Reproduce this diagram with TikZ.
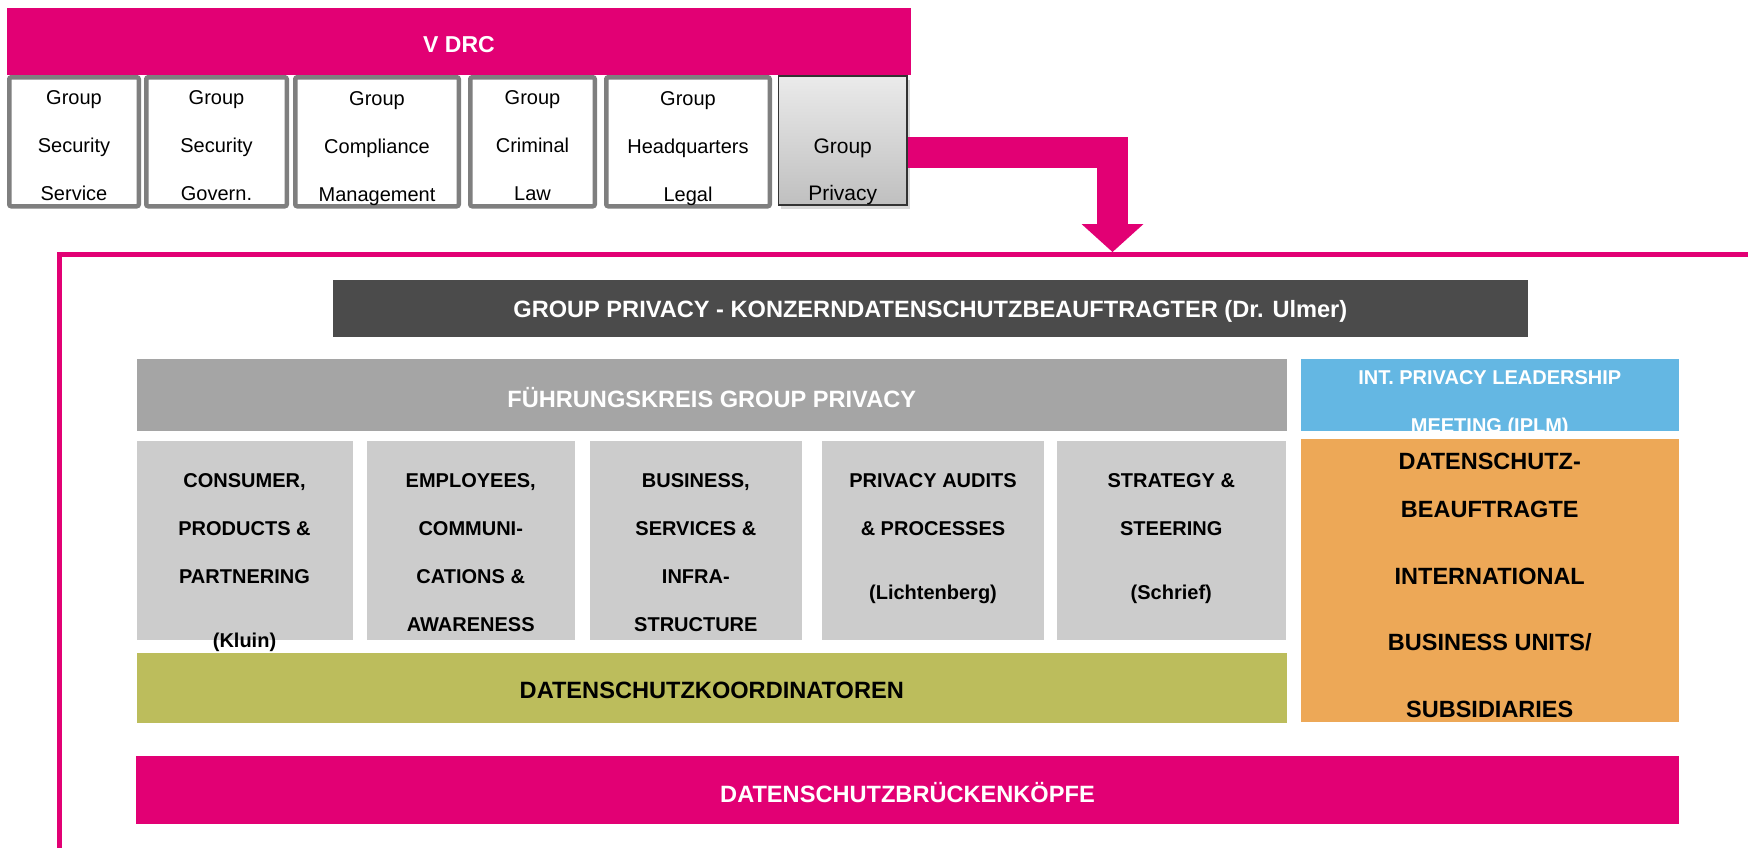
\documentclass[tikz,border=0pt]{standalone}
\usepackage{fontspec}
\setmainfont{Liberation Sans}
\usetikzlibrary{arrows.meta}
\usetikzlibrary{shadows}
\definecolor{tmagenta}{HTML}{E20074}
\definecolor{gpdark}{HTML}{4B4B4B}
\definecolor{fkgray}{HTML}{A5A5A5}
\definecolor{unitgray}{HTML}{CCCCCC}
\definecolor{dskolive}{HTML}{BCBD5C}
\definecolor{intorange}{HTML}{EDA857}
\definecolor{iplmblue}{HTML}{64B7E3}
\definecolor{boxborder}{HTML}{7F7F7F}
\tikzset{bar/.style = {inner sep=0pt}}
\tikzset{grpbox/.style = {draw=boxborder, line width=4.5pt, rounded corners=2pt,
                          fill=white, inner sep=0pt, minimum height=129pt}}
\tikzset{gpbox/.style = {draw=black!80, line width=1.5pt, top color=black!8,
                         bottom color=black!25, inner sep=0pt,
                         drop shadow={opacity=0.3, shadow xshift=3pt, shadow yshift=-4pt}}}
\tikzset{unitbox/.style = {fill=unitgray, inner sep=0pt, minimum height=198.5pt}}
\tikzset{grptxt/.style = {font=\fontsize{20}{48}\selectfont, align=center, text=black}}
\tikzset{unittxt/.style = {font=\fontsize{20}{48}\selectfont\bfseries, align=center, text=black}}
\tikzset{bartxt/.style = {font=\fontsize{23.6}{28}\selectfont\bfseries, align=center}}
\tikzset{framerule/.style = {draw=tmagenta, line width=5.5pt}}
\tikzset{flowarrow/.style = {draw=tmagenta, line width=31pt, line join=miter,
                             -{Triangle[width=62pt, length=28pt, line width=0pt]}}}

\begin{document}
\begin{tikzpicture}[x=1pt, y=-1pt]
  \useasboundingbox (0,0) rectangle (1748,847);
  \clip (0,0) rectangle (1748,847);
  % frame round the group privacy organisation
  \draw[framerule] (59.5,900) |- (1800,254.5);
  % V DRC and its groups
  \node[bar, fill=tmagenta, minimum width=904pt, minimum height=67.5pt,
    label={[bartxt, font=\fontsize{23}{28}\selectfont\bfseries, text=white, yshift=-3.4pt]center:V DRC}]
    (vdrc) at (459,41.25) {};
  \node[grpbox, minimum width=129.5pt,
    label={[grptxt, yshift=-4.25pt]center:{Group\\Security\\Service}}]
    (gss) at (74,141.75) {};
  \node[grpbox, minimum width=140.5pt,
    label={[grptxt, yshift=-4.25pt]center:{Group\\Security\\Govern.}}]
    (gsg) at (216.5,141.75) {};
  \node[grpbox, minimum width=163.5pt,
    label={[grptxt, yshift=-6.5pt]center:{Group\\Compliance\\Management}}]
    (gcm) at (377,141.75) {};
  \node[grpbox, minimum width=124.5pt,
    label={[grptxt, yshift=-4.25pt]center:{Group\\Criminal\\Law}}]
    (gcl) at (532.5,141.75) {};
  \node[grpbox, minimum width=163.5pt,
    label={[grptxt, yshift=-6.5pt]center:{Group\\Headquarters\\Legal}}]
    (ghl) at (688,141.75) {};
  \node[gpbox, minimum width=128.5pt, minimum height=129.2pt,
    label={[grptxt, font=\fontsize{21}{47.5}\selectfont, yshift=-31.5pt]center:{Group\\Privacy}}]
    (gp) at (842.7,140.4) {};
  \coordinate (drop) at (1112.5,252);
  \draw[flowarrow] ([yshift=-11.6pt]gp.east) -| (drop);
  % group privacy
  \node[bar, fill=gpdark, minimum width=1195.3pt, minimum height=56.7pt,
    label={[bartxt, text=white, yshift=-3.4pt]center:{GROUP PRIVACY - KONZERNDATENSCHUTZBEAUFTRAGTER (Dr. Ulmer)}}]
    (gpk) at (930.35,308.35) {};
  \node[bar, fill=fkgray, minimum width=1150.5pt, minimum height=72pt,
    label={[bartxt, text=white, yshift=-3pt]center:{FÜHRUNGSKREIS GROUP PRIVACY}}]
    (fk) at (711.75,395) {};
  \node[bar, fill=iplmblue, minimum width=377.5pt, minimum height=72pt,
    path picture={\node[bartxt, text=white, font=\fontsize{20}{48}\selectfont\bfseries]
      at ([yshift=-9pt]path picture bounding box.center)
      {INT. PRIVACY LEADERSHIP\\MEETING (IPLM)};}]
    (iplm) at (1489.75,395) {};
  \node[unitbox, minimum width=216pt,
    label={[unittxt, yshift=-22.8pt]center:{CONSUMER,\\PRODUCTS \&\\PARTNERING\\[16pt](Kluin)}}]
    (consumer) at (244.5,540.25) {};
  \node[unitbox, minimum width=207.5pt,
    label={[unittxt, yshift=-12.75pt]center:{EMPLOYEES,\\COMMUNI-\\CATIONS \&\\AWARENESS}}]
    (employees) at (470.75,540.25) {};
  \node[unitbox, minimum width=211.7pt,
    label={[unittxt, yshift=-12.75pt]center:{BUSINESS,\\SERVICES \&\\INFRA-\\STRUCTURE}}]
    (business) at (695.85,540.25) {};
  \node[unitbox, minimum width=222pt,
    label={[unittxt, yshift=1.65pt]center:{PRIVACY AUDITS\\\& PROCESSES\\[16.5pt](Lichtenberg)}}]
    (audits) at (933,540.25) {};
  \node[unitbox, minimum width=228.5pt,
    label={[unittxt, yshift=1.65pt]center:{STRATEGY \&\\STEERING\\[16.5pt](Schrief)}}]
    (strategy) at (1171.25,540.25) {};
  \node[bar, fill=intorange, minimum width=377.5pt, minimum height=282.7pt,
    label={[bartxt, text=black, font=\fontsize{23.5}{66.5}\selectfont\bfseries, yshift=-5.15pt]center:{DATENSCHUTZ-\\[-18.5pt]BEAUFTRAGTE\\INTERNATIONAL\\BUSINESS UNITS/\\SUBSIDIARIES}}]
    (intl) at (1489.75,580.35) {};
  \node[bar, fill=dskolive, minimum width=1149.6pt, minimum height=69.7pt,
    label={[bartxt, text=black, yshift=-2.15pt]center:DATENSCHUTZKOORDINATOREN}]
    (dsk) at (711.8,687.85) {};
  \node[bar, fill=tmagenta, minimum width=1543pt, minimum height=67.7pt,
    label={[bartxt, text=white, yshift=-3.15pt]center:DATENSCHUTZBRÜCKENKÖPFE}]
    (dbk) at (907.5,789.85) {};
\end{tikzpicture}
\end{document}
